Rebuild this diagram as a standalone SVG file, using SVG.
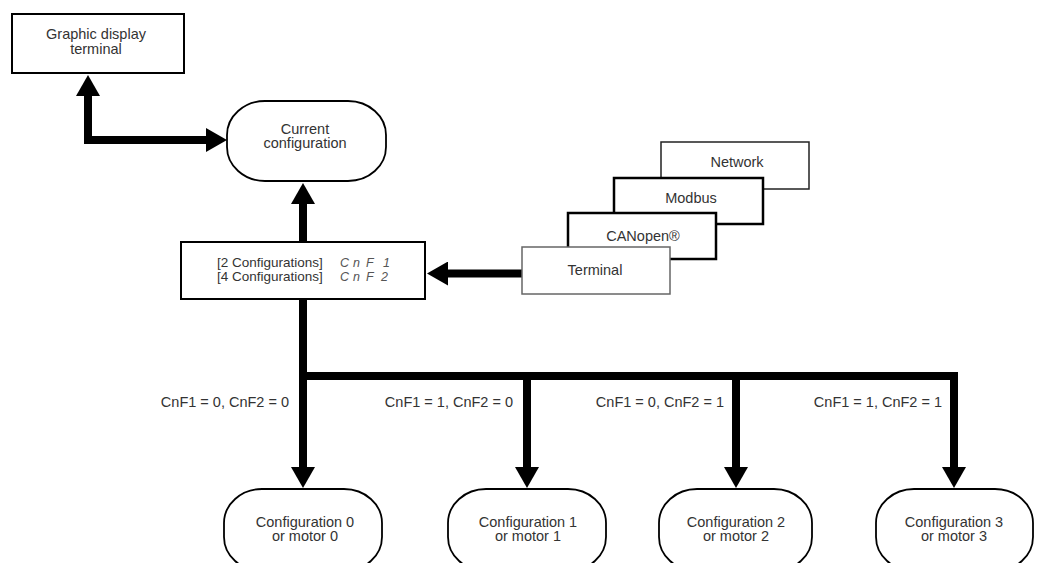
<svg xmlns="http://www.w3.org/2000/svg" width="1037" height="563" viewBox="0 0 1037 563">
<style>
text{font-family:"Liberation Sans",Arial,sans-serif;font-size:14.5px;fill:#333}
.c{text-anchor:middle}
.e{text-anchor:end}
.sm{font-size:13.5px}
.box{fill:#fff;stroke:#000;stroke-width:2}
.pill{fill:#fff;stroke:#000;stroke-width:1.8}
.conn{fill:none;stroke:#000;stroke-width:8;stroke-linejoin:miter}
.seg{font-style:italic;font-size:12.5px;fill:#555}
</style>
<defs>
<marker id="ah" viewBox="0 0 21 24" refX="1" refY="12" markerWidth="21" markerHeight="24" markerUnits="userSpaceOnUse" orient="auto-start-reverse">
<path d="M0,0 L21,12 L0,24 z" fill="#000"/>
</marker>
</defs>
<rect width="1037" height="563" fill="#fff"/>

<g id="connectors">
<path class="conn" d="M88,95 V140 H207" marker-start="url(#ah)" marker-end="url(#ah)"/>
<path class="conn" d="M303,242 V203" marker-end="url(#ah)"/>
<path class="conn" d="M522,273.5 H447" marker-end="url(#ah)"/>
<path class="conn" d="M303,299 V468" marker-end="url(#ah)"/>
<path class="conn" d="M299,376 H954 V468" marker-end="url(#ah)"/>
<path class="conn" d="M527,376 V468" marker-end="url(#ah)"/>
<path class="conn" d="M736,376 V468" marker-end="url(#ah)"/>
</g>

<g id="graphic-terminal">
<rect class="box" x="12" y="14" width="172" height="59"/>
<text class="c" x="96" y="39">Graphic display</text>
<text class="c" x="96" y="54">terminal</text>
</g>

<g id="current-config">
<rect class="pill" x="227" y="101" width="159" height="80" rx="38" ry="34"/>
<text class="c" x="305" y="134">Current</text>
<text class="c" x="305" y="148">configuration</text>
</g>

<g id="cnf-box">
<rect class="box" x="181" y="242" width="244" height="57"/>
<text class="sm" x="217" y="266.5">[2 Configurations]</text>
<text class="sm" x="217" y="280.5">[4 Configurations]</text>
<text class="seg" x="340 353 366 383" y="266.5">CnF1</text>
<text class="seg" x="340 353 366 381" y="280.5">CnF2</text>
</g>

<g id="network">
<rect x="661" y="142" width="148" height="47" fill="#fff" stroke="#222" stroke-width="1.5"/>
<text class="c" x="737" y="167">Network</text>
</g>
<g id="modbus">
<rect x="614" y="178" width="149" height="46" fill="#fff" stroke="#000" stroke-width="2.5"/>
<text class="c" x="691" y="203">Modbus</text>
</g>
<g id="canopen">
<rect x="568" y="213" width="148" height="46" fill="#fff" stroke="#000" stroke-width="2.5"/>
<text class="c" x="643" y="241">CANopen®</text>
</g>
<g id="terminal">
<rect x="522" y="247" width="148" height="47" fill="#fff" stroke="#666" stroke-width="1.5"/>
<text class="c" x="595" y="275">Terminal</text>
</g>

<g id="labels">
<text class="e" x="289" y="407">CnF1 = 0, CnF2 = 0</text>
<text class="e" x="513" y="407">CnF1 = 1, CnF2 = 0</text>
<text class="e" x="724" y="407">CnF1 = 0, CnF2 = 1</text>
<text class="e" x="942" y="407">CnF1 = 1, CnF2 = 1</text>
</g>

<g id="config0">
<rect class="pill" x="224" y="489" width="158" height="82" rx="38" ry="34"/>
<text class="c" x="305" y="527">Configuration 0</text>
<text class="c" x="305" y="541">or motor 0</text>
</g>
<g id="config1">
<rect class="pill" x="448" y="489" width="158" height="82" rx="38" ry="34"/>
<text class="c" x="528" y="527">Configuration 1</text>
<text class="c" x="528" y="541">or motor 1</text>
</g>
<g id="config2">
<rect class="pill" x="659" y="489" width="153" height="82" rx="38" ry="34"/>
<text class="c" x="736" y="527">Configuration 2</text>
<text class="c" x="736" y="541">or motor 2</text>
</g>
<g id="config3">
<rect class="pill" x="876" y="489" width="157" height="82" rx="38" ry="34"/>
<text class="c" x="954" y="527">Configuration 3</text>
<text class="c" x="954" y="541">or motor 3</text>
</g>
</svg>
